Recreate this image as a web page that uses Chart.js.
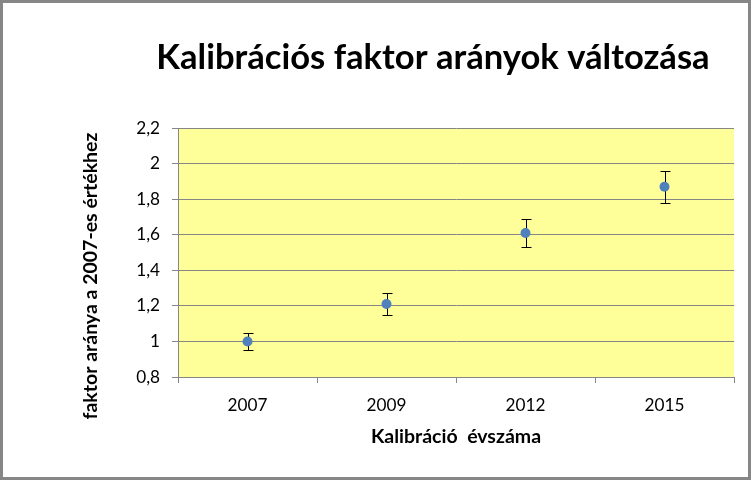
<!DOCTYPE html>
<html>
<head>
<meta charset="utf-8">
<script src="https://cdn.jsdelivr.net/npm/chart.js@4.4.1/dist/chart.umd.min.js"></script>
<style>
    html, body { margin: 0; padding: 0; background: #fff; }
</style>
</head>
<body>
<canvas id="kalibChart" width="751" height="480"></canvas>
<script>
// adatok
const years = ['2007', '2009', '2012', '2015'];
const ratios = [1.00, 1.21, 1.61, 1.87];
const errors = [0.05, 0.06, 0.08, 0.09];
const yTicks = [0.8, 1, 1.2, 1.4, 1.6, 1.8, 2, 2.2];

const chartTitle = 'Kalibrációs faktor arányok változása';
const xTitle = 'Kalibráció  évszáma';
const yTitle = 'faktor aránya a 2007-es értékhez';

const FAMILY = 'Lato, Carlito, "Open Sans", sans-serif';
const GRID = '#868686';

// font size so the text gets about the width it has in the Excel picture
function fitSize(text, weight, width) {
    const c = document.createElement('canvas').getContext('2d');
    c.font = `${weight} 100px ${FAMILY}`;
    return Math.round(100 * width / c.measureText(text).width * 10) / 10;
}
const titleSize = fitSize(chartTitle, 'bold', 553);
const axisTitleSize = fitSize(yTitle, 'bold', 287);
const tickSize = fitSize('2007', 'normal', 40);

const excelLook = {
    id: 'excelLook',
    beforeDraw(chart) {
        const { ctx, chartArea: a } = chart;
        ctx.save();
        ctx.fillStyle = '#FFFF99';
        ctx.fillRect(a.left, a.top, a.right - a.left, a.bottom - a.top);
        ctx.restore();
    },
    beforeDatasetsDraw(chart) {
        // hibasávok
        const { ctx, scales: { x, y } } = chart;
        ctx.save();
        ctx.strokeStyle = '#000';
        ctx.lineWidth = 1;
        ratios.forEach((v, i) => {
            const px = Math.round(x.getPixelForValue(i)) + 0.5;
            const top = Math.round(y.getPixelForValue(v + errors[i])) + 0.5;
            const bot = Math.round(y.getPixelForValue(v - errors[i])) + 0.5;
            ctx.beginPath();
            ctx.moveTo(px, top); ctx.lineTo(px, bot);
            ctx.moveTo(px - 5, top); ctx.lineTo(px + 5, top);
            ctx.moveTo(px - 5, bot); ctx.lineTo(px + 5, bot);
            ctx.stroke();
        });
        ctx.restore();
    },
    afterDraw(chart) {
        const { ctx, chartArea: a } = chart;
        ctx.save();
        ctx.fillStyle = '#000';
        ctx.font = `bold ${titleSize}px ${FAMILY}`;
        ctx.textAlign = 'center';
        ctx.textBaseline = 'alphabetic';
        ctx.fillText(chartTitle, 433, 69);

        ctx.translate(97, 276);
        ctx.rotate(-Math.PI / 2);
        ctx.font = `bold ${axisTitleSize}px ${FAMILY}`;
        ctx.fillText(yTitle, 0, 0);
        ctx.restore();

        ctx.save();
        ctx.strokeStyle = GRID;
        ctx.lineWidth = 3;
        ctx.strokeRect(1.5, 1.5, chart.width - 3, chart.height - 3);
        ctx.restore();
    }
};

new Chart(document.getElementById('kalibChart'), {
    type: 'line',
    data: {
        labels: years,
        datasets: [{
            data: ratios,
            showLine: false,
            pointRadius: 5,
            pointHoverRadius: 5,
            pointBackgroundColor: '#4F81BD',
            pointBorderColor: '#4F81BD',
            pointBorderWidth: 0
        }]
    },
    options: {
        responsive: false,
        animation: false,
        layout: { padding: { top: 128, right: 17, bottom: 0, left: 0 } },
        plugins: {
            legend: { display: false },
            tooltip: { enabled: false }
        },
        scales: {
            x: {
                type: 'category',
                offset: true,
                grid: { offset: true, drawOnChartArea: false, color: GRID, tickLength: 6 },
                border: { color: GRID },
                ticks: { color: '#000', padding: 12, font: { family: FAMILY, size: tickSize } },
                title: {
                    display: true,
                    text: xTitle,
                    color: '#000',
                    font: { family: FAMILY, size: axisTitleSize, weight: 'bold' },
                    padding: { top: 0, bottom: 32 }
                },
                afterFit: s => { s.height = 103; }
            },
            y: {
                min: 0.8,
                max: 2.2,
                grid: { color: GRID, tickLength: 6 },
                border: { color: GRID },
                afterBuildTicks: s => { s.ticks = yTicks.map(v => ({ value: v })); },
                ticks: {
                    color: '#000',
                    padding: 12,
                    font: { family: FAMILY, size: tickSize },
                    callback: v => String(Number(v.toFixed(1))).replace('.', ',')
                },
                afterFit: s => { s.width = 178; }
            }
        }
    },
    plugins: [excelLook]
});
</script>
</body>
</html>
